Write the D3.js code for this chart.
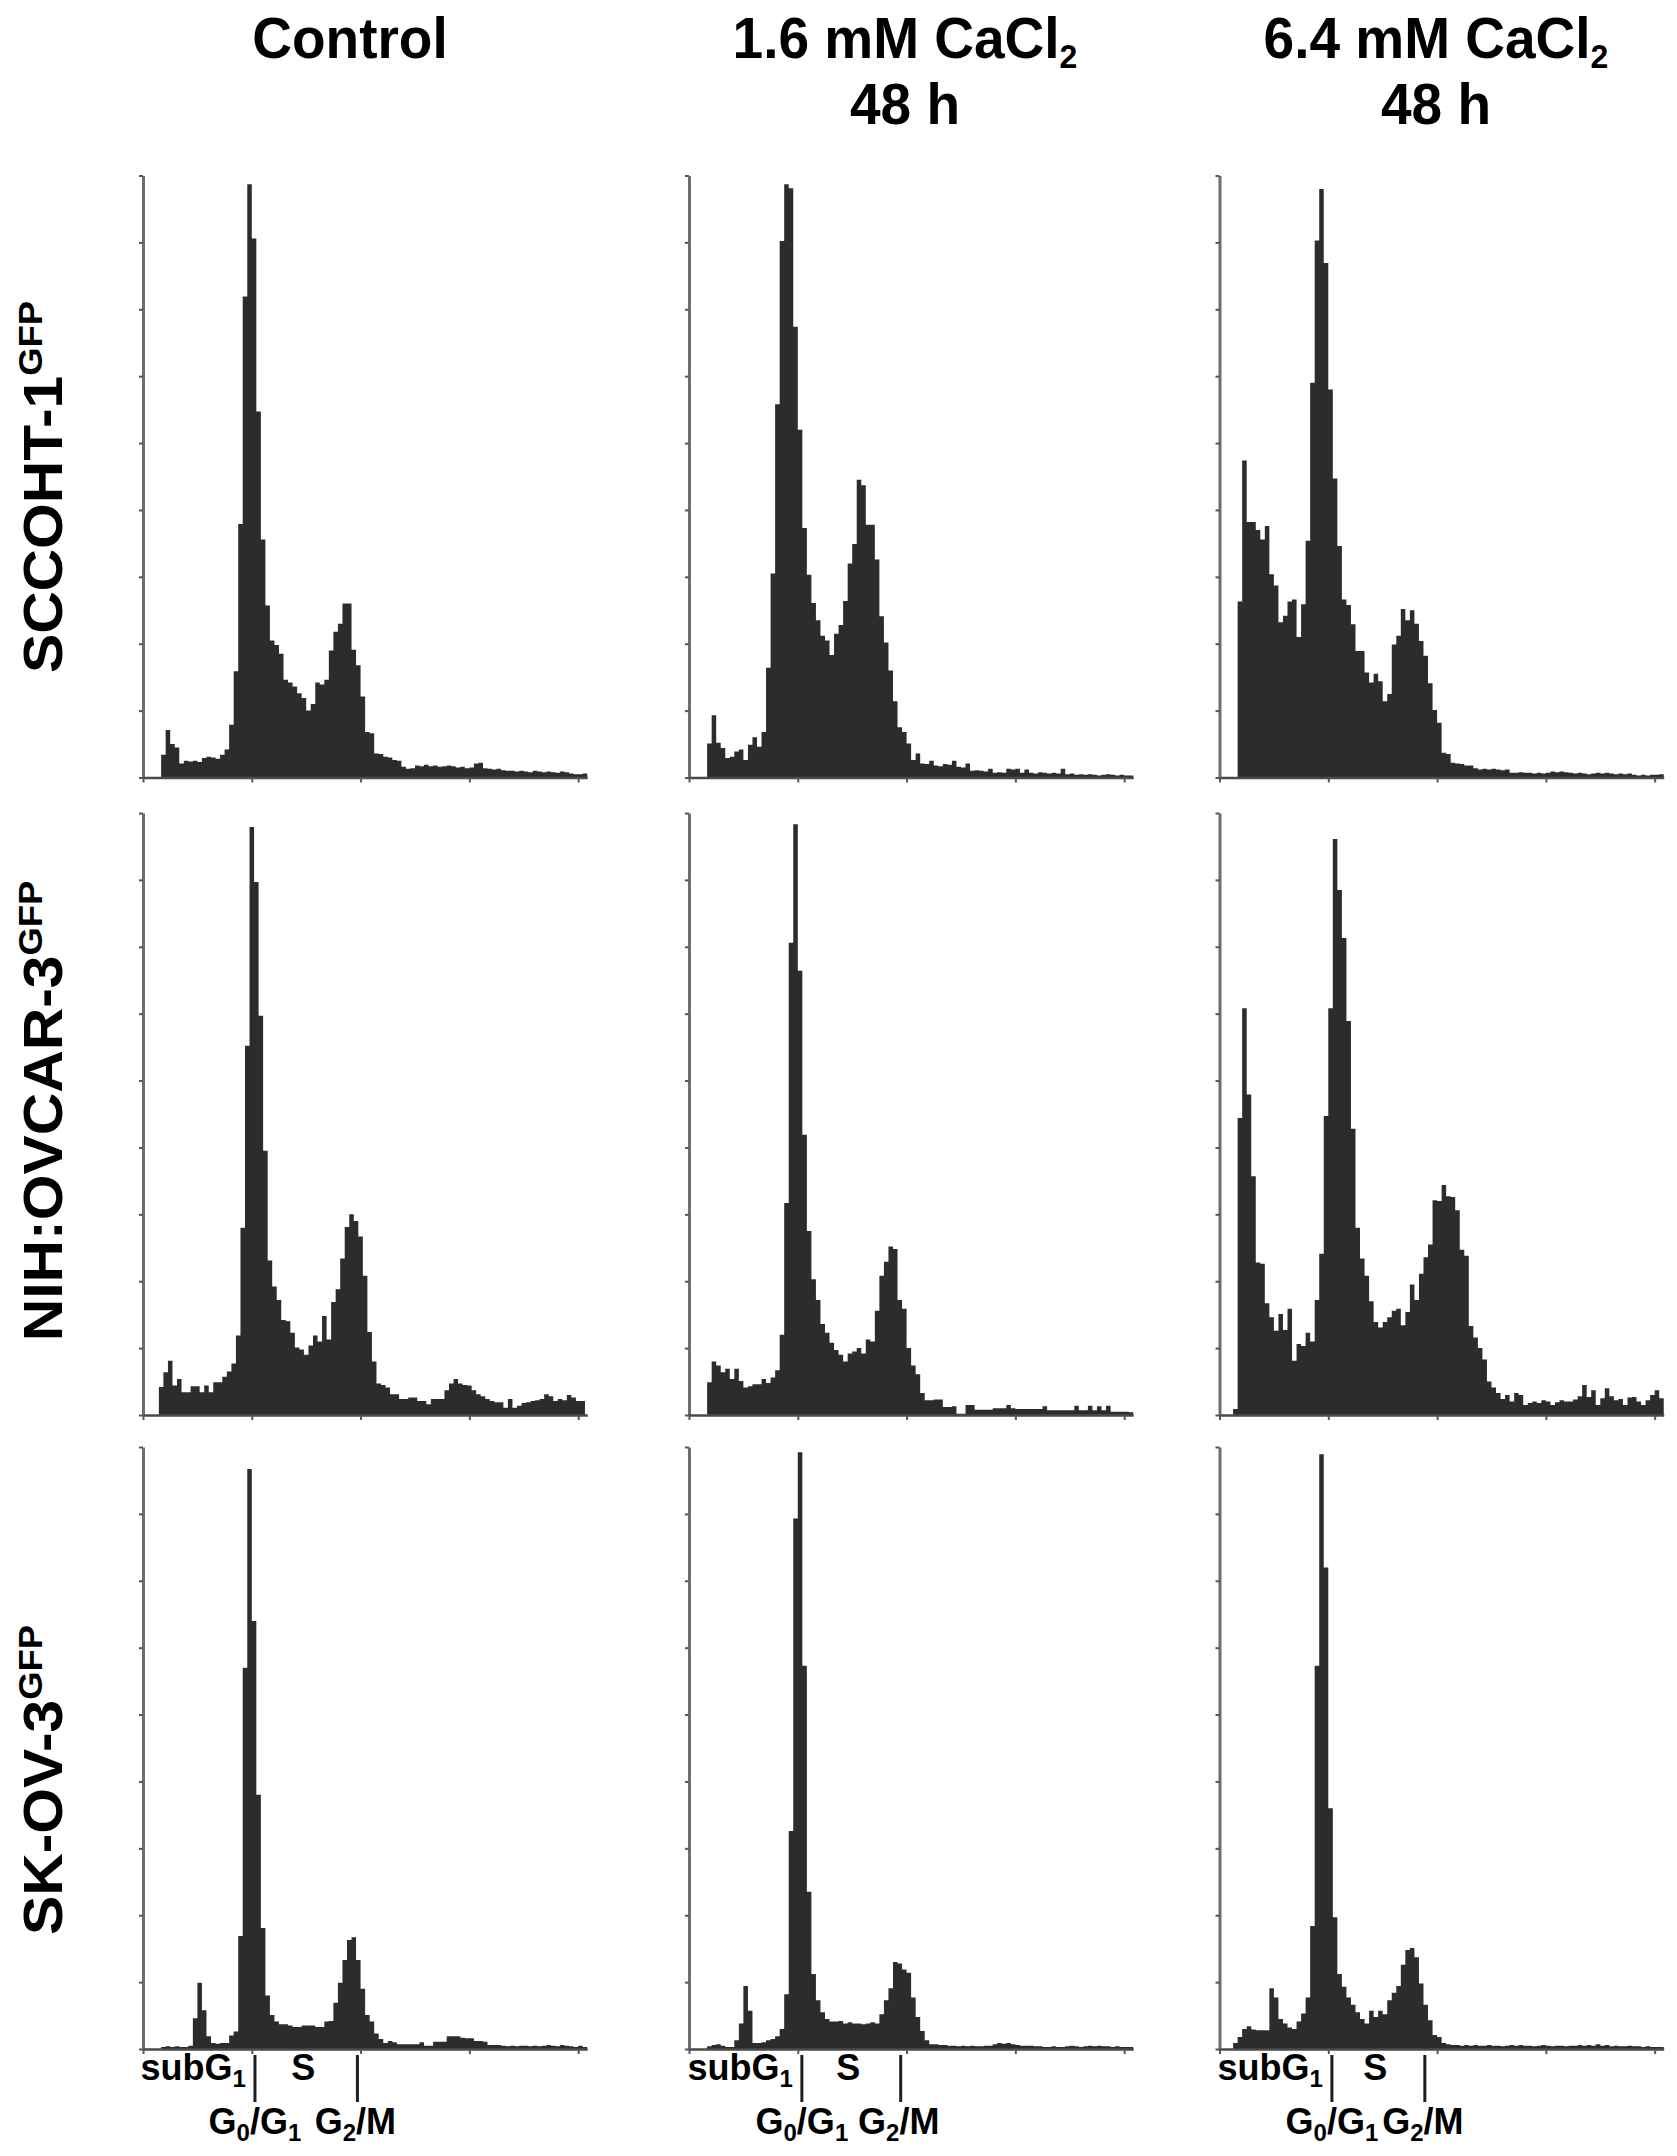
<!DOCTYPE html>
<html><head><meta charset="utf-8">
<script src="https://cdn.jsdelivr.net/npm/d3@7"></script>
<style>
body{margin:0;background:#fff;}
svg{display:block;}
text{font-family:"Liberation Sans",Arial,Helvetica,sans-serif;font-weight:bold;fill:#000;}
</style></head><body>
<svg id="chart" width="1677" height="2156"></svg>
<script>
// ---------- DATA (histogram counts per channel bin) ----------
const columnTitles = [
  [[{t:"Control"}]],
  [[{t:"1.6 mM CaCl"},{t:"2",sub:true}],[{t:"48 h"}]],
  [[{t:"6.4 mM CaCl"},{t:"2",sub:true}],[{t:"48 h"}]]
];
const rowLabels = [
  {main:"SCCOHT-1", sup:"GFP"},
  {main:"NIH:OVCAR-3", sup:"GFP"},
  {main:"SK-OV-3", sup:"GFP"}
];
const xTickValues = [0, 24, 48, 72, 96];
const yTickValues = [0,100,200,300,400,500,600,700,800,900];

// SCCOHT-1 (row 1)
const sccControlStart = 4;
const sccControl = [34,71,50,45,21,25,24,25,23,29,31,30,28,34,42,79,159,379,719,887,806,547,356,257,205,198,185,146,142,136,126,119,100,110,142,139,146,190,218,230,260,260,191,168,121,68,66,36,35,31,30,26,25,16,13,14,18,17,19,17,18,16,17,18,17,15,16,14,15,21,22,14,13,12,13,11,10,10,9,10,9,8,10,9,8,9,8,7,9,8,6,5,5,6];
const sccCa16Start = 4;
const sccCa16 = [51,93,52,44,29,31,39,42,26,49,60,46,68,164,305,558,802,887,881,674,520,373,303,261,235,212,205,183,215,228,264,320,349,445,437,378,378,326,241,202,160,114,75,68,51,26,36,21,20,25,18,17,20,19,25,16,15,21,10,11,10,9,13,7,8,7,13,12,13,7,12,7,6,8,7,6,7,6,13,5,6,4,5,4,5,4,3,4,5,4,3,4,3,3];
const sccCa64Start = 4;
const sccCa64 = [263,474,382,382,370,356,376,304,287,232,242,263,266,210,259,354,590,803,880,769,580,447,346,266,258,229,189,189,157,142,155,144,114,125,199,212,252,235,250,230,204,182,141,101,82,37,35,22,21,20,18,18,14,12,13,12,13,12,11,12,7,7,8,7,7,6,7,6,7,9,8,9,8,7,6,7,6,5,6,7,6,7,6,5,6,5,6,4,3,4,3,4,4,5];

// NIH:OVCAR-3 (row 2)
const nihControlStart = 3.5;
const nihControl = [42,64,81,44,54,34,34,43,43,34,44,34,49,49,57,65,77,119,280,552,879,797,597,395,231,192,172,142,140,123,101,98,90,104,119,110,148,113,169,188,234,281,300,290,267,208,124,80,47,45,41,31,31,24,24,26,26,21,21,16,24,24,24,37,47,54,47,45,44,37,31,28,24,21,19,19,11,24,11,14,18,19,21,22,24,31,28,21,24,22,30,26,21,21];
const nihCa16Start = 4;
const nihCa16 = [49,80,74,64,69,54,69,51,41,43,46,46,54,48,56,67,120,317,706,883,664,419,275,203,172,136,123,108,97,90,80,92,95,100,92,113,110,156,208,229,252,248,172,159,100,74,61,33,22,22,23,23,12,12,13,2,2,15,15,8,8,8,8,10,10,10,15,10,9,9,9,9,9,9,13,7,7,7,7,7,7,14,7,7,14,7,13,7,14,5,5,5,5,4];
const nihCa64Start = 3;
const nihCa64 = [9,444,608,479,357,228,226,167,146,126,151,127,159,81,106,103,123,110,172,241,447,608,861,785,713,589,428,280,234,208,170,139,131,139,146,156,159,134,154,195,172,211,236,255,321,320,344,327,326,306,247,238,133,116,100,83,50,41,33,24,30,20,33,30,15,18,20,18,22,20,15,19,22,20,20,23,28,45,27,37,15,25,40,28,22,24,15,26,27,20,15,22,30,37,25];

// SK-OV-3 (row 3)
const skControlStart = 4;
const skControl = [3,4,3,4,3,3,5,46,99,58,19,9,8,9,9,20,26,169,570,867,640,380,181,80,51,41,37,37,35,33,33,35,35,35,33,33,41,42,69,99,133,163,167,133,90,51,41,23,15,9,12,10,7,7,7,7,7,10,5,5,11,11,11,19,19,19,17,16,16,12,12,11,6,6,6,5,4,5,4,5,5,4,5,4,5,6,5,4,6,5,4,3,5,3];
const skCa16Start = 4;
const skCa16 = [4,6,7,5,3,3,13,38,94,57,9,9,10,13,15,19,30,82,326,793,892,573,235,112,73,55,45,41,41,42,38,40,38,38,37,38,40,38,52,73,91,130,128,119,114,77,48,27,13,7,7,6,6,5,5,4,5,4,5,4,4,5,5,7,9,8,9,7,6,5,5,5,4,4,3,3,4,3,3,4,5,4,3,4,5,4,5,4,4,3,4,3,3,3];
const skCa64Start = 3;
const skCa64 = [9,18,30,34,29,28,28,28,91,77,45,38,32,30,41,53,77,184,573,889,720,360,197,112,93,77,66,55,45,38,57,48,57,52,73,84,94,126,148,151,137,98,66,43,21,18,9,7,6,6,5,6,5,6,5,5,6,5,5,4,5,6,5,6,5,5,4,5,6,5,4,5,5,4,5,5,6,5,6,5,7,5,6,4,5,4,4,5,4,4,3,4,3,3,3];

// cell-cycle phase gate positions (in channel bins), per column
const phaseGates = [[24.7, 47.3], [24.9, 46.7], [24.8, 45.3]];

const panelData = [
  [{v:sccControl,s:sccControlStart},{v:sccCa16,s:sccCa16Start},{v:sccCa64,s:sccCa64Start}],
  [{v:nihControl,s:nihControlStart},{v:nihCa16,s:nihCa16Start},{v:nihCa64,s:nihCa64Start}],
  [{v:skControl,s:skControlStart},{v:skCa16,s:skCa16Start},{v:skCa64,s:skCa64Start}]
];

// ---------- LAYOUT ----------
const colX0 = [143, 689, 1219.5];
const rowBase = [777.5, 1415, 2049];
const plotH = 602;
const binW = 4.533;
const xMax = 98;
const titleCenters = [350, 905, 1436];
const rowLabelCenters = [487, 1111, 1780];

const svg = d3.select("#chart");
svg.append("rect").attr("width",1677).attr("height",2156).attr("fill","#fff");

// column titles
columnTitles.forEach((lines, c) => {
  lines.forEach((segs, li) => {
    const t = svg.append("text")
      .attr("transform", `translate(${titleCenters[c]},${58 + li * 66}) scale(1,1.06)`)
      .attr("text-anchor", "middle")
      .style("font-size", "55px");
    segs.forEach(sg => {
      const ts = t.append("tspan").text(sg.t);
      if (sg.sub) ts.style("font-size", "32px").attr("dy", 9);
    });
  });
});

// row labels
rowLabels.forEach((lab, r) => {
  const t = svg.append("text")
    .attr("transform", `translate(62,${rowLabelCenters[r]}) rotate(-90) scale(1.07,1)`)
    .attr("text-anchor", "middle")
    .style("font-size", "55px");
  t.append("tspan").text(lab.main);
  t.append("tspan").attr("dy", -20).style("font-size", "34px").text(lab.sup);
});

// panels
panelData.forEach((row, r) => {
  row.forEach((pd, c) => {
    const x = d3.scaleLinear().domain([0, xMax]).range([colX0[c], colX0[c] + xMax * binW]);
    const y = d3.scaleLinear().domain([0, 900]).range([rowBase[r], rowBase[r] - plotH]);
    const g = svg.append("g");

    const pts = pd.v.map((val, i) => ({b: pd.s + i, v: val}));
    pts.push({b: pd.s + pd.v.length, v: pd.v[pd.v.length - 1]});
    const area = d3.area()
      .x(d => x(d.b))
      .y0(y(0))
      .y1(d => y(d.v))
      .curve(d3.curveStepAfter);
    g.append("path").datum(pts).attr("d", area).attr("fill", "#2c2c2c");

    const yAxis = d3.axisLeft(y).tickValues(yTickValues).tickSize(4).tickSizeOuter(0).tickFormat("");
    const ya = g.append("g").attr("transform", `translate(${colX0[c]},0)`).call(yAxis);
    ya.select(".domain").attr("stroke", "#6e6e6e").attr("stroke-width", 3);
    ya.selectAll(".tick line").attr("stroke", "#555").attr("stroke-width", 2);

    const xAxis = d3.axisBottom(x).tickValues(xTickValues).tickSize(5).tickSizeOuter(0).tickFormat("");
    const xa = g.append("g").attr("transform", `translate(0,${rowBase[r]})`).call(xAxis);
    xa.select(".domain").attr("stroke", "#4a4a4a").attr("stroke-width", 2.5);
    xa.selectAll(".tick line").attr("stroke", "#555").attr("stroke-width", 2);

    if (r === 2) {
      const base = rowBase[r];
      const [m1, m2] = phaseGates[c].map(x);
      [m1, m2].forEach(mx => {
        g.append("line").attr("x1", mx).attr("x2", mx)
          .attr("y1", base + 6).attr("y2", base + 53)
          .attr("stroke", "#1e1e1e").attr("stroke-width", 3);
      });
      const sub = (t, parts) => {
        parts.forEach(p => {
          const ts = t.append("tspan").text(p.t);
          if (p.sub) ts.style("font-size", "24px").attr("dy", 7);
          if (p.up) ts.attr("dy", -7);
        });
      };
      const t1 = g.append("text").attr("x", m1 - 9).attr("y", base + 31)
        .attr("text-anchor", "end").style("font-size", "36px");
      sub(t1, [{t:"subG"},{t:"1",sub:true}]);
      g.append("text").attr("x", (m1 + m2) / 2 - 3).attr("y", base + 31)
        .attr("text-anchor", "middle").style("font-size", "36px").text("S");
      const t2 = g.append("text").attr("x", m1).attr("y", base + 85)
        .attr("text-anchor", "middle").style("font-size", "36px");
      sub(t2, [{t:"G"},{t:"0",sub:true},{t:"/G",up:true},{t:"1",sub:true}]);
      const t3 = g.append("text").attr("x", m2 - 2).attr("y", base + 85)
        .attr("text-anchor", "middle").style("font-size", "36px");
      sub(t3, [{t:"G"},{t:"2",sub:true},{t:"/M",up:true}]);
    }
  });
});
</script>
</body></html>
